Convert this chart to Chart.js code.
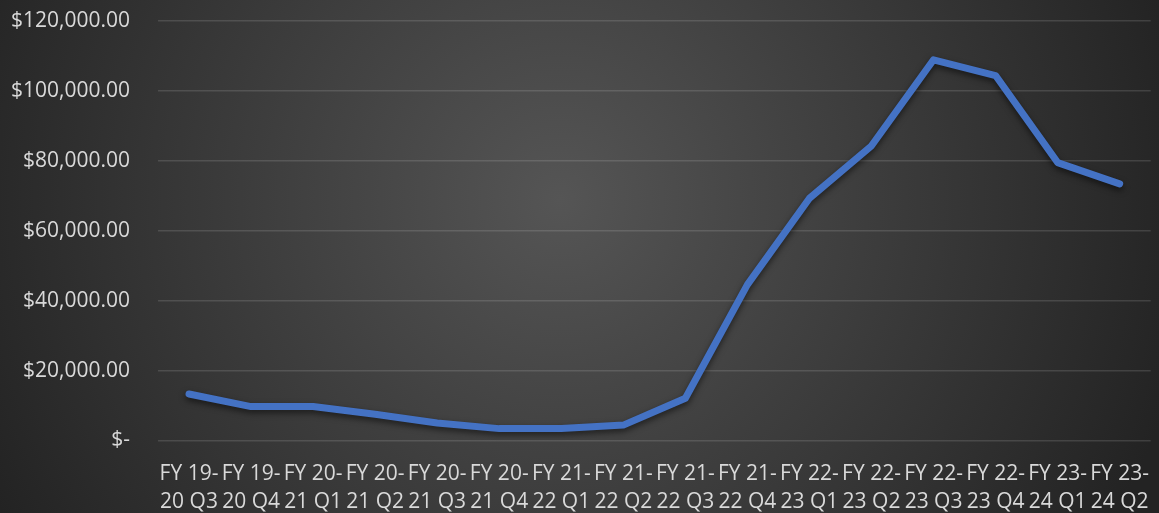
<!DOCTYPE html>
<html>
<head>
<meta charset="utf-8">
<script src="https://cdn.jsdelivr.net/npm/chart.js@4.4.1/dist/chart.umd.min.js"></script>
<style>
    html, body { margin: 0; padding: 0; background: #2b2b2b; }
    #wrap { width: 1159px; height: 513px; position: relative; }
</style>
</head>
<body>
<div id="wrap"><canvas id="chart"></canvas></div>
<script>
// quarterly values
const categories = [
    "FY 19-20 Q3", "FY 19-20 Q4", "FY 20-21 Q1", "FY 20-21 Q2",
    "FY 20-21 Q3", "FY 20-21 Q4", "FY 21-22 Q1", "FY 21-22 Q2",
    "FY 21-22 Q3", "FY 21-22 Q4", "FY 22-23 Q1", "FY 22-23 Q2",
    "FY 22-23 Q3", "FY 22-23 Q4", "FY 23-24 Q1", "FY 23-24 Q2",
];
const amounts = [
    13300, 9700, 9700, 7500, 5000, 3400, 3400, 4400,
    12100, 44600, 69300, 84300, 108900, 104400, 79500, 73400,
];
const yTicks = [0, 20000, 40000, 60000, 80000, 100000, 120000];

const textColor = "#d9d9d9";
const fontFamily = "'Open Sans', sans-serif";

function money(v) {
    if (v === 0) return "$-";
    return "$" + v.toLocaleString("en-US", { minimumFractionDigits: 2, maximumFractionDigits: 2 });
}

// dark radial backdrop like the office theme
const backdrop = {
    id: "backdrop",
    beforeDraw(chart) {
        const { ctx, width, height } = chart;
        const g = ctx.createRadialGradient(560, 200, 0, 560, 200, 640);
        g.addColorStop(0, "#555555");
        g.addColorStop(1, "#232323");
        ctx.save();
        ctx.fillStyle = g;
        ctx.fillRect(0, 0, width, height);
        ctx.restore();
    },
};

// soft drop shadow under the line
const lineShadow = {
    id: "lineShadow",
    beforeDatasetDraw(chart) {
        const ctx = chart.ctx;
        ctx.save();
        ctx.shadowColor = "rgba(0,0,0,0.55)";
        ctx.shadowBlur = 6;
        ctx.shadowOffsetY = 3;
    },
    afterDatasetDraw(chart) {
        chart.ctx.restore();
    },
};

new Chart(document.getElementById("chart"), {
    type: "line",
    data: {
        labels: categories,
        datasets: [{
            data: amounts,
            borderColor: "#4472c4",
            borderWidth: 7,
            borderCapStyle: "round",
            borderJoinStyle: "round",
            pointRadius: 0,
            tension: 0,
            fill: false,
        }],
    },
    options: {
        responsive: true,
        maintainAspectRatio: false,
        animation: false,
        layout: { padding: { top: 21, right: 8.3, left: 0, bottom: 0 } },
        plugins: {
            legend: { display: false },
            tooltip: { enabled: false },
        },
        scales: {
            x: {
                offset: true,
                grid: { display: false, drawTicks: false },
                border: { display: false },
                ticks: {
                    color: textColor,
                    font: { family: fontFamily, size: 21, lineHeight: 1.36 },
                    padding: 19,
                    maxRotation: 0,
                    autoSkip: false,
                    callback(value) {
                        const s = categories[value];
                        const i = s.indexOf("-") + 1;
                        return [s.slice(0, i), s.slice(i)];
                    },
                },
                afterFit(scale) {
                    scale.height = 72.5;
                    scale.paddingLeft = 0;
                    scale.paddingRight = 0;
                },
            },
            y: {
                min: 0,
                max: 120000,
                afterBuildTicks(scale) { scale.ticks = yTicks.map(v => ({ value: v })); },
                grid: { color: "rgba(255,255,255,0.13)", lineWidth: 1.5, drawTicks: false },
                border: { display: false },
                ticks: {
                    color: textColor,
                    font: { family: fontFamily, size: 21 },
                    padding: 28,
                    callback: v => money(v),
                },
                afterFit(scale) {
                    scale.width = 158;
                    scale.paddingTop = 0;
                    scale.paddingBottom = 0;
                },
            },
        },
    },
    plugins: [backdrop, lineShadow],
});
</script>
</body>
</html>
